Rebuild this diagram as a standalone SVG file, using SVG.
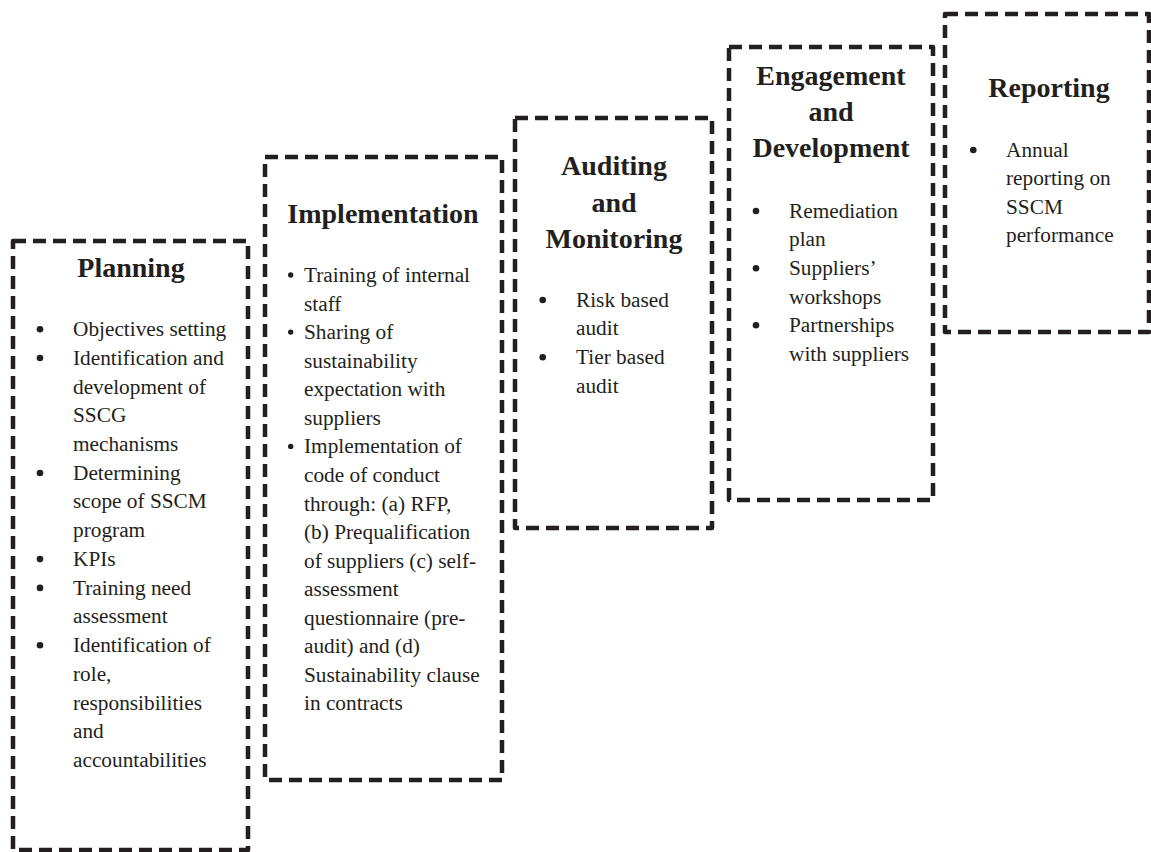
<svg xmlns="http://www.w3.org/2000/svg" width="1151" height="852" viewBox="0 0 1151 852">
<style>
.box{fill:none;stroke:#231f20;stroke-width:4.5;stroke-dasharray:13 7;stroke-linejoin:round}
.t{font-family:"Liberation Serif","Times New Roman",serif;font-weight:bold;font-size:28px;fill:#231f20;text-anchor:middle}
.b{font-family:"Liberation Serif","Times New Roman",serif;font-size:21.3px;fill:#231f20}
.d{fill:#231f20}
</style>
<rect width="1151" height="852" fill="#fff"/>
<g id="planning">
<rect class="box" x="13" y="241" width="235" height="609"/>
<text class="t" x="131" y="277">Planning</text>
<g class="d">
<circle cx="40" cy="329.3" r="3.3"/><circle cx="40" cy="358" r="3.3"/><circle cx="40" cy="473" r="3.3"/>
<circle cx="40" cy="559.1" r="3.3"/><circle cx="40" cy="587.9" r="3.3"/><circle cx="40" cy="645.3" r="3.3"/>
</g>
<g class="b">
<text x="73" y="336">Objectives setting</text>
<text x="73" y="364.7">Identification and</text>
<text x="73" y="393.5">development of</text>
<text x="73" y="422.2">SSCG</text>
<text x="73" y="450.9">mechanisms</text>
<text x="73" y="479.7">Determining</text>
<text x="73" y="508.4">scope of SSCM</text>
<text x="73" y="537.1">program</text>
<text x="73" y="565.8">KPIs</text>
<text x="73" y="594.6">Training need</text>
<text x="73" y="623.3">assessment</text>
<text x="73" y="652">Identification of</text>
<text x="73" y="680.8">role,</text>
<text x="73" y="709.5">responsibilities</text>
<text x="73" y="738.2">and</text>
<text x="73" y="767">accountabilities</text>
</g>
</g>
<g id="implementation">
<rect class="box" x="265" y="157" width="237" height="623"/>
<text class="t" x="383" y="223">Implementation</text>
<g class="d">
<circle cx="290.7" cy="275" r="2.7"/><circle cx="290.7" cy="332.1" r="2.7"/><circle cx="290.7" cy="446.4" r="2.7"/>
</g>
<g class="b">
<text x="304" y="282">Training of internal</text>
<text x="304" y="310.6">staff</text>
<text x="304" y="339.1">Sharing of</text>
<text x="304" y="367.7">sustainability</text>
<text x="304" y="396.2">expectation with</text>
<text x="304" y="424.8">suppliers</text>
<text x="304" y="453.4">Implementation of</text>
<text x="304" y="481.9">code of conduct</text>
<text x="304" y="510.5">through: (a) RFP,</text>
<text x="304" y="539">(b) Prequalification</text>
<text x="304" y="567.6">of suppliers (c) self-</text>
<text x="304" y="596.2">assessment</text>
<text x="304" y="624.7">questionnaire (pre-</text>
<text x="304" y="653.3">audit) and (d)</text>
<text x="304" y="681.8">Sustainability clause</text>
<text x="304" y="710.4">in contracts</text>
</g>
</g>
<g id="auditing">
<rect class="box" x="515" y="118" width="197" height="410"/>
<text class="t" x="614" y="175">Auditing</text>
<text class="t" x="614" y="211.5">and</text>
<text class="t" x="614" y="248">Monitoring</text>
<g class="d">
<circle cx="542.7" cy="300" r="3.3"/><circle cx="542.7" cy="357.3" r="3.3"/>
</g>
<g class="b">
<text x="576" y="306.7">Risk based</text>
<text x="576" y="335.4">audit</text>
<text x="576" y="364">Tier based</text>
<text x="576" y="392.7">audit</text>
</g>
</g>
<g id="engagement">
<rect class="box" x="729" y="47" width="204" height="453"/>
<text class="t" x="831" y="85">Engagement</text>
<text class="t" x="831" y="121">and</text>
<text class="t" x="831" y="157">Development</text>
<g class="d">
<circle cx="756" cy="211" r="3.3"/><circle cx="756" cy="268.2" r="3.3"/><circle cx="756" cy="325.3" r="3.3"/>
</g>
<g class="b">
<text x="789" y="217.7">Remediation</text>
<text x="789" y="246.3">plan</text>
<text x="789" y="274.9">Suppliers’</text>
<text x="789" y="303.5">workshops</text>
<text x="789" y="332">Partnerships</text>
<text x="789" y="360.6">with suppliers</text>
</g>
</g>
<g id="reporting">
<rect class="box" x="945" y="14" width="204" height="318"/>
<text class="t" x="1049" y="97">Reporting</text>
<g class="d">
<circle cx="973.3" cy="150" r="3.3"/>
</g>
<g class="b">
<text x="1006" y="156.7">Annual</text>
<text x="1006" y="185.2">reporting on</text>
<text x="1006" y="213.7">SSCM</text>
<text x="1006" y="242.2">performance</text>
</g>
</g>
<g id="connectors"></g>
</svg>
